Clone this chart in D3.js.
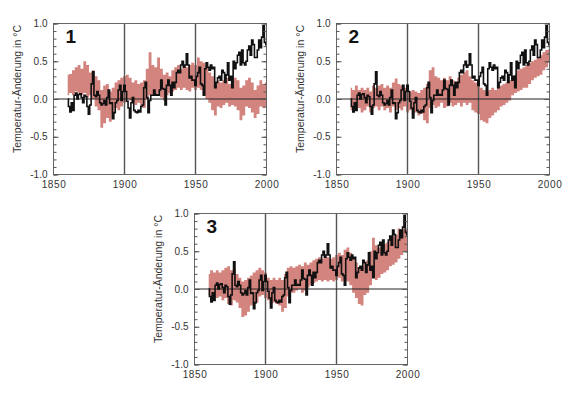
<!doctype html>
<html lang="de">
<head>
<meta charset="utf-8">
<title>Temperatur-Änderung 1860-2000</title>
<style>
  body { margin: 0; background: #fff; }
  svg text { font-family: "Liberation Sans", Arial, sans-serif; }
  .axis path.domain { display: none; }
  .axis line { stroke: #555; }
  .axis text { fill: #333; font-size: 10px; }
</style>
</head>
<body>
<script src="https://cdnjs.cloudflare.com/ajax/libs/d3/7.8.5/d3.min.js"></script>
<script>
// observed annual values 1860-2000 (black line)
var years = d3.range(1860, 2001);
var observed = [
  0.00,-0.10,-0.17,-0.05,-0.15, 0.05, 0.08, 0.00, 0.06, 0.07,
  0.02,-0.05, 0.05, 0.03,-0.10,-0.20,-0.08, 0.20, 0.36, 0.05,
  0.03, 0.10, 0.05,-0.05,-0.08,-0.06,-0.02,-0.08, 0.02, 0.12,
 -0.06,-0.05,-0.26,-0.18,-0.05,-0.02, 0.12, 0.18,-0.02, 0.10,
  0.18, 0.10,-0.03,-0.12,-0.25,-0.05, 0.02,-0.15,-0.17,-0.18,
 -0.15,-0.17,-0.10,-0.08, 0.15, 0.22, 0.02,-0.18,-0.02, 0.05,
  0.05, 0.12, 0.05, 0.06, 0.05, 0.12, 0.25, 0.14, 0.13,-0.08,
  0.18, 0.25, 0.18, 0.05, 0.22, 0.15, 0.22, 0.35, 0.38, 0.35,
  0.45, 0.50, 0.42, 0.45, 0.60, 0.45, 0.28, 0.30, 0.25, 0.25,
  0.18, 0.30, 0.35, 0.42, 0.20, 0.18, 0.05, 0.40, 0.48, 0.42,
  0.38, 0.45, 0.40, 0.42, 0.15, 0.22, 0.28, 0.30, 0.25, 0.38,
  0.35, 0.22, 0.32, 0.48, 0.25, 0.30, 0.15, 0.50, 0.40, 0.48,
  0.58, 0.62, 0.45, 0.65, 0.48, 0.45, 0.50, 0.65, 0.70, 0.58,
  0.78, 0.72, 0.55, 0.55, 0.65, 0.78, 0.68, 0.82, 0.97, 0.75,
  0.72
];

// model ranges, every 2nd year 1860-2000 (pink bands)
var bandYears = d3.range(1860, 2001, 2);

// 1: natural forcing
var band1Low = [
  0.05, 0.08, 0.05, 0.10, 0.08, 0.05, 0.08, 0.02, 0.05, 0.00,
 -0.10,-0.15,-0.38,-0.32,-0.25,-0.30,-0.20,-0.12,-0.15,-0.10,
 -0.05, 0.00,-0.02,-0.05,-0.08,-0.05,-0.10,-0.12, 0.00, 0.05,
  0.05, 0.05, 0.08, 0.02,-0.02, 0.05, 0.08, 0.10, 0.12, 0.15,
  0.12, 0.15, 0.12, 0.10, 0.15, 0.12, 0.15, 0.12, 0.05, 0.00,
 -0.05,-0.15,-0.22,-0.10,-0.12,-0.08,-0.05,-0.10,-0.08,-0.10,
 -0.15,-0.28,-0.22,-0.10,-0.12,-0.18,-0.25,-0.20,-0.10,-0.12,
 -0.10
];
var band1High = [
  0.32, 0.33, 0.38, 0.42, 0.45, 0.40, 0.50, 0.45, 0.35, 0.38,
  0.30, 0.25, 0.12, 0.18, 0.20, 0.10, 0.15, 0.22, 0.25, 0.28,
  0.30, 0.32, 0.28, 0.22, 0.25, 0.20, 0.22, 0.25, 0.40, 0.62,
  0.45, 0.42, 0.55, 0.40, 0.32, 0.35, 0.30, 0.38, 0.42, 0.45,
  0.40, 0.45, 0.42, 0.45, 0.48, 0.45, 0.55, 0.50, 0.48, 0.45,
  0.35, 0.30, 0.20, 0.25, 0.22, 0.25, 0.28, 0.20, 0.25, 0.28,
  0.25, 0.15, 0.18, 0.25, 0.28, 0.22, 0.12, 0.18, 0.25, 0.20,
  0.22
];

// 2: anthropogenic forcing
var band2Low = [
 -0.15,-0.18,-0.15,-0.12,-0.18,-0.15,-0.10,-0.18,-0.12,-0.10,
 -0.15,-0.10,-0.15,-0.12,-0.18,-0.10,-0.15,-0.12,-0.15,-0.10,
 -0.18,-0.15,-0.20,-0.18,-0.22,-0.20,-0.28,-0.32,-0.12,-0.08,
 -0.12,-0.10,-0.05,-0.12,-0.10,-0.05,-0.10,-0.08,-0.05,-0.10,
 -0.05,-0.08,-0.05,-0.15,-0.18,-0.20,-0.28,-0.30,-0.32,-0.25,
 -0.22,-0.18,-0.15,-0.10,-0.08,-0.05,-0.02, 0.05, 0.08, 0.10,
  0.12, 0.15, 0.15, 0.20, 0.25, 0.28, 0.30, 0.32, 0.38, 0.42,
  0.48
];
var band2High = [
  0.15, 0.12, 0.18, 0.12, 0.15, 0.12, 0.15, 0.10, 0.18, 0.15,
  0.18, 0.20, 0.15, 0.18, 0.15, 0.22, 0.27, 0.20, 0.18, 0.15,
  0.15, 0.10, 0.12, 0.10, 0.08, 0.12, 0.15, 0.20, 0.38, 0.42,
  0.30, 0.28, 0.25, 0.28, 0.25, 0.30, 0.25, 0.22, 0.28, 0.32,
  0.35, 0.38, 0.30, 0.25, 0.22, 0.20, 0.15, 0.12, 0.10, 0.12,
  0.15, 0.12, 0.15, 0.18, 0.20, 0.22, 0.25, 0.30, 0.32, 0.38,
  0.40, 0.42, 0.45, 0.48, 0.50, 0.52, 0.55, 0.58, 0.62, 0.65,
  0.66
];

// 3: natural + anthropogenic forcing
var band3Low = [
 -0.08,-0.12,-0.10,-0.12,-0.10,-0.15,-0.12,-0.20,-0.22,-0.15,
 -0.18,-0.25,-0.37,-0.35,-0.30,-0.22,-0.20,-0.18,-0.10,-0.08,
 -0.12,-0.15,-0.20,-0.18,-0.20,-0.22,-0.30,-0.25,-0.10,-0.05,
 -0.05,-0.02, 0.00,-0.05,-0.02, 0.02, 0.05, 0.08, 0.10, 0.12,
  0.10, 0.12, 0.10, 0.12, 0.10, 0.12, 0.15, 0.10, 0.12, 0.10,
  0.05,-0.05,-0.12,-0.20,-0.22,-0.08,-0.05, 0.05, 0.15, 0.12,
  0.15, 0.20, 0.22, 0.25, 0.30, 0.32, 0.35, 0.40, 0.45, 0.50,
  0.48
];
var band3High = [
  0.20, 0.25, 0.22, 0.25, 0.22, 0.25, 0.28, 0.30, 0.25, 0.28,
  0.20, 0.15, 0.10, 0.12, 0.15, 0.18, 0.22, 0.25, 0.28, 0.25,
  0.22, 0.15, 0.12, 0.15, 0.12, 0.15, 0.12, 0.20, 0.28, 0.30,
  0.28, 0.30, 0.32, 0.30, 0.35, 0.32, 0.35, 0.38, 0.40, 0.42,
  0.40, 0.45, 0.42, 0.40, 0.42, 0.45, 0.48, 0.45, 0.52, 0.55,
  0.48, 0.40, 0.35, 0.28, 0.30, 0.35, 0.38, 0.50, 0.68, 0.58,
  0.55, 0.58, 0.60, 0.62, 0.65, 0.70, 0.72, 0.80, 0.78, 0.80,
  0.78
];

var panelLabels = ["1", "2", "3"];
var yTicks = [-1.0, -0.5, 0.0, 0.5, 1.0];
var yMinor = d3.range(-10, 11).map(function (d) { return d / 10; });
var xTicks = [1850, 1900, 1950, 2000];
var xGrid = [1900, 1950];
var yTitle = "Temperatur-Änderung in °C";

var width = 572, height = 394;
var svg = d3.select("body").append("svg")
    .attr("width", width)
    .attr("height", height);

// plot boxes
var panels = [
    { label: panelLabels[0], low: band1Low, high: band1High, left: 53.5, top: 23.5, w: 213, h: 151 },
    { label: panelLabels[1], low: band2Low, high: band2High, left: 336.5, top: 23.5, w: 213, h: 151 },
    { label: panelLabels[2], low: band3Low, high: band3High, left: 194.5, top: 213.5, w: 213, h: 151 }
];

var fmt = function (d) { return d.toFixed(1); };

panels.forEach(function (p, i) {
    var x = d3.scaleLinear().domain([1850, 2000]).range([0, p.w]);
    var y = d3.scaleLinear().domain([-1, 1]).range([p.h, 0]);

    var g = svg.append("g").attr("transform", "translate(" + p.left + "," + p.top + ")");

    g.append("clipPath").attr("id", "clip" + i)
        .append("rect").attr("width", p.w).attr("height", p.h);

    var band = bandYears.map(function (yr, k) { return { year: yr, lo: p.low[k], hi: p.high[k] }; });
    var area = d3.area()
        .curve(d3.curveStep)
        .x(function (d) { return x(d.year); })
        .y0(function (d) { return y(d.lo); })
        .y1(function (d) { return y(d.hi); });

    var plot = g.append("g").attr("clip-path", "url(#clip" + i + ")");

    plot.append("path")
        .datum(band)
        .attr("fill", "#d3847e")
        .attr("d", area);

    // grid lines
    plot.selectAll(".vgrid")
        .data(xGrid)
        .enter().append("line")
        .attr("x1", function (d) { return x(d); })
        .attr("x2", function (d) { return x(d); })
        .attr("y1", 0).attr("y2", p.h)
        .attr("stroke", "#555").attr("stroke-width", 1.4);

    plot.append("line")
        .attr("x1", 0).attr("x2", p.w)
        .attr("y1", y(0)).attr("y2", y(0))
        .attr("stroke", "#222").attr("stroke-width", 1);

    var line = d3.line()
        .curve(d3.curveStep)
        .x(function (d, k) { return x(years[k]); })
        .y(function (d) { return y(d); });

    plot.append("path")
        .datum(observed)
        .attr("fill", "none")
        .attr("stroke", "#111")
        .attr("stroke-width", 1.6)
        .attr("d", line);

    // frame
    g.append("rect")
        .attr("width", p.w).attr("height", p.h)
        .attr("fill", "none").attr("stroke", "#666").attr("stroke-width", 1);

    // left axis
    g.append("g").attr("class", "axis")
        .call(d3.axisLeft(y).tickValues(yMinor).tickSize(-3).tickFormat(""));
    g.append("g").attr("class", "axis")
        .call(d3.axisLeft(y).tickValues(yTicks).tickSize(-5).tickPadding(6).tickFormat(fmt));

    // right axis
    g.append("g").attr("class", "axis")
        .attr("transform", "translate(" + p.w + ",0)")
        .call(d3.axisRight(y).tickValues(yMinor).tickSize(-3).tickFormat(""));
    g.append("g").attr("class", "axis")
        .attr("transform", "translate(" + p.w + ",0)")
        .call(d3.axisRight(y).tickValues(yTicks).tickSize(-5).tickFormat(""));

    // bottom axis
    g.append("g").attr("class", "axis")
        .attr("transform", "translate(0," + p.h + ")")
        .call(d3.axisBottom(x).tickValues(xTicks).tickSize(0).tickPadding(6).tickFormat(d3.format("d")))
        .selectAll("text").style("letter-spacing", "0.6px");

    // axis title
    g.append("text")
        .attr("transform", "translate(-33," + (p.h / 2 - 10) + ") rotate(-90)")
        .attr("text-anchor", "middle")
        .attr("font-size", "10.5px")
        .attr("fill", "#333")
        .text(yTitle);

    // panel number
    g.append("text")
        .attr("x", 12).attr("y", 19)
        .attr("font-size", "19px")
        .attr("font-weight", "bold")
        .attr("fill", "#111")
        .text(p.label);
});
</script>
</body>
</html>
